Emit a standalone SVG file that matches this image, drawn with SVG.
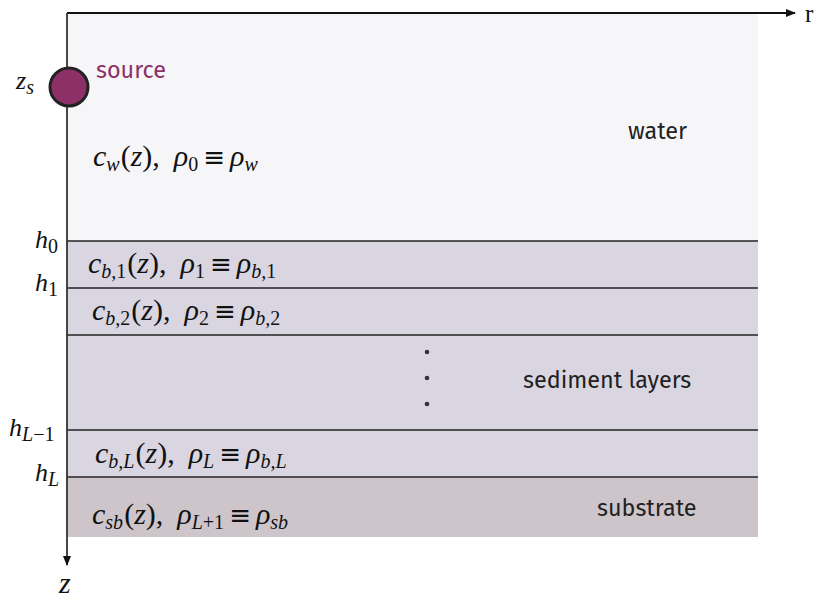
<svg xmlns="http://www.w3.org/2000/svg" width="824" height="601" viewBox="0 0 824 601">
<style>
.m{font-family:"Liberation Serif","DejaVu Serif",serif;font-size:30px;fill:#111}
.i{font-style:italic}
.s{font-size:20px}
.e{font-family:"DejaVu Sans",sans-serif;font-size:26px}
.lab{font-family:"Fira Sans","Open Sans","Noto Sans",sans-serif;font-size:23.4px;fill:#222}
.bd{stroke:#222;stroke-width:1.6}
</style>
<defs>
<marker id="ah" viewBox="0 0 10 10" refX="9" refY="5" markerWidth="10" markerHeight="10" markerUnits="userSpaceOnUse" orient="auto">
<path d="M0,1 L10,5 L0,9 Z" fill="#111"/>
</marker>
</defs>
<g id="water"><rect x="67" y="13" width="691" height="228" fill="#f6f6f8"/>
<text class="lab" x="628" y="139">water</text>
<text class="m" x="93" y="166"><tspan class="i">c</tspan><tspan class="i s" dy="5">w</tspan><tspan dy="-5" dx="1">(</tspan><tspan class="i">z</tspan><tspan>),</tspan><tspan class="i" dx="14">ρ</tspan><tspan class="s" dy="5">0</tspan><tspan class="e" dy="-5" dx="5">≡</tspan><tspan class="i" dx="5">ρ</tspan><tspan class="i s" dy="5">w</tspan></text>
</g>
<g id="layer1"><rect x="67" y="241" width="691" height="47" fill="#d9d6e1"/>
<text class="m" x="88" y="273"><tspan class="i">c</tspan><tspan class="i s" dy="5">b,</tspan><tspan class="s">1</tspan><tspan dy="-5" dx="1">(</tspan><tspan class="i">z</tspan><tspan>),</tspan><tspan class="i" dx="14">ρ</tspan><tspan class="s" dy="5">1</tspan><tspan class="e" dy="-5" dx="5">≡</tspan><tspan class="i" dx="5">ρ</tspan><tspan class="i s" dy="5">b,</tspan><tspan class="s">1</tspan></text>
</g>
<g id="layer2"><rect x="67" y="288" width="691" height="47" fill="#d9d6e1"/>
<text class="m" x="92" y="320"><tspan class="i">c</tspan><tspan class="i s" dy="5">b,</tspan><tspan class="s">2</tspan><tspan dy="-5" dx="1">(</tspan><tspan class="i">z</tspan><tspan>),</tspan><tspan class="i" dx="14">ρ</tspan><tspan class="s" dy="5">2</tspan><tspan class="e" dy="-5" dx="5">≡</tspan><tspan class="i" dx="5">ρ</tspan><tspan class="i s" dy="5">b,</tspan><tspan class="s">2</tspan></text>
</g>
<g id="sediment"><rect x="67" y="335" width="691" height="95" fill="#d9d6e1"/>
<circle cx="427" cy="352" r="2.3" fill="#333"/><circle cx="427" cy="378" r="2.3" fill="#333"/><circle cx="427" cy="404" r="2.3" fill="#333"/>
<text class="lab" x="523" y="388">sediment layers</text>
</g>
<g id="layerL"><rect x="67" y="430" width="691" height="47" fill="#d9d6e1"/>
<text class="m" x="95" y="463"><tspan class="i">c</tspan><tspan class="i s" dy="5">b,L</tspan><tspan dy="-5" dx="1">(</tspan><tspan class="i">z</tspan><tspan>),</tspan><tspan class="i" dx="14">ρ</tspan><tspan class="i s" dy="5">L</tspan><tspan class="e" dy="-5" dx="5">≡</tspan><tspan class="i" dx="5">ρ</tspan><tspan class="i s" dy="5">b,L</tspan></text>
</g>
<g id="substrate"><rect x="67" y="477" width="691" height="60" fill="#cec5ca"/>
<text class="lab" x="597" y="516">substrate</text>
<text class="m" x="92" y="524"><tspan class="i">c</tspan><tspan class="i s" dy="5">sb</tspan><tspan dy="-5" dx="1">(</tspan><tspan class="i">z</tspan><tspan>),</tspan><tspan class="i" dx="14">ρ</tspan><tspan class="i s" dy="5">L</tspan><tspan class="s">+1</tspan><tspan class="e" dy="-5" dx="5">≡</tspan><tspan class="i" dx="5">ρ</tspan><tspan class="i s" dy="5">sb</tspan></text>
</g>
<g id="connectors">
<line class="bd" x1="67" y1="241" x2="758" y2="241"/>
<line class="bd" x1="67" y1="288" x2="758" y2="288"/>
<line class="bd" x1="67" y1="335" x2="758" y2="335"/>
<line class="bd" x1="67" y1="430" x2="758" y2="430"/>
<line class="bd" x1="67" y1="477" x2="758" y2="477"/>
<line x1="67" y1="13" x2="795" y2="13" stroke="#111" stroke-width="1.8" marker-end="url(#ah)"/>
<line x1="67" y1="13" x2="67" y2="565" stroke="#333" stroke-width="1.8" marker-end="url(#ah)"/>
</g>
<g id="axis-labels">
<text class="m" x="805" y="22" style="font-size:25px">r</text>
<text class="m i" x="59" y="593" style="font-size:30px">z</text>
<text class="m" x="16" y="89" style="font-size:26px"><tspan class="i">z</tspan><tspan class="i s" dy="5">s</tspan></text>
<text class="m" x="35" y="248" style="font-size:26px"><tspan class="i">h</tspan><tspan class="s" dy="5">0</tspan></text>
<text class="m" x="35" y="291" style="font-size:26px"><tspan class="i">h</tspan><tspan class="s" dy="5">1</tspan></text>
<text class="m" x="9" y="436" style="font-size:26px"><tspan class="i">h</tspan><tspan class="i s" dy="5">L</tspan><tspan class="s">−1</tspan></text>
<text class="m" x="35" y="481" style="font-size:26px"><tspan class="i">h</tspan><tspan class="i s" dy="5">L</tspan></text>
</g>
<g id="source">
<circle cx="69" cy="87" r="19" fill="#8e3068" stroke="#222" stroke-width="3"/>
<text class="lab" x="96" y="78" style="fill:#8e3068">source</text>
</g>
</svg>
